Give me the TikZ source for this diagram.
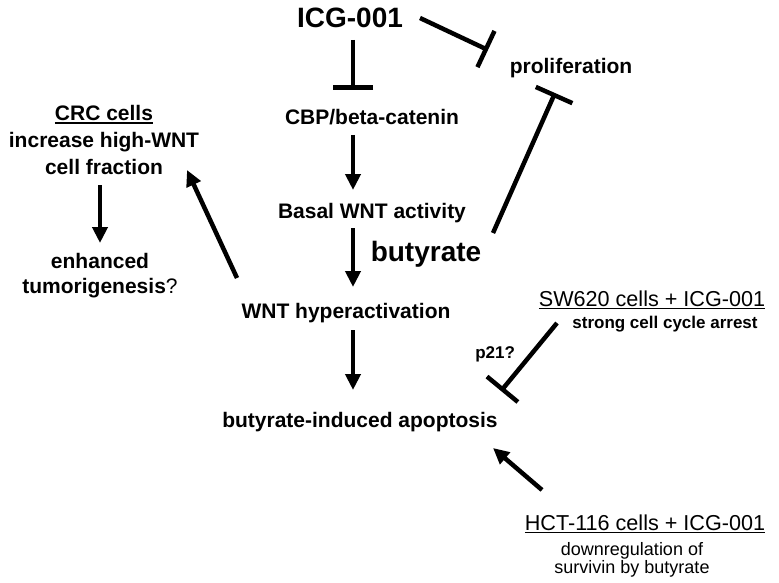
\documentclass[tikz,border=0pt]{standalone}
\usepackage{fontspec}
\setmainfont{Liberation Sans}
\usetikzlibrary{arrows.meta,calc}

% underline with a thicker rule
\newcommand{\ulbox}[1]{\setbox0\hbox{#1}\rlap{\rule[-3pt]{\wd0}{1.6pt}}\box0}

\tikzset{
  lbl/.style={font=\bfseries\fontsize{21}{27}\selectfont, align=center, inner sep=2pt},
  biglbl/.style={font=\bfseries\fontsize{28}{32}\selectfont, inner sep=2pt},
  cond/.style={font=\fontsize{21.6}{25}\selectfont, inner sep=2pt},
  note/.style={font=\bfseries\fontsize{17}{19}\selectfont, inner sep=2pt},
  remark/.style={font=\fontsize{18}{18.5}\selectfont, align=center, inner sep=2pt},
  act/.style={line width=4.5pt, -{Triangle[length=16pt,width=15pt]}},
  inhibit/.style={line width=4.5pt, -{Bar[width=40pt]}},
}

\begin{document}
\begin{tikzpicture}[x=1pt,y=-1pt]
  \useasboundingbox (0,0) rectangle (779,583);

  % central pathway
  \node[biglbl] (icg) at (350,18) {ICG-001};
  \node[lbl] (cbp) at (372,117) {CBP/beta-catenin};
  \node[lbl] (basal) at (372,213) {Basal WNT activity};
  \node[biglbl] (but) at (426,254) {butyrate};
  \node[lbl] (hyper) at (346,313) {WNT hyperactivation};
  \node[lbl] (apop) at (360,422) {butyrate-induced apoptosis};
  \node[lbl] (prol) at (571,68) {proliferation};

  % left branch
  \node[lbl] (crc) at (104,140) {\ulbox{CRC cells}\\increase high-WNT\\cell fraction};
  \node[lbl, font=\bfseries\fontsize{21}{25}\selectfont] (tum) at (100,276) {enhanced\\tumorigenesis{\mdseries ?}};

  % cell lines
  \node[cond] (sw) at (652,300) {\ulbox{SW620 cells + ICG-001}};
  \node[note] (arrest) at (665,324) {strong cell cycle arrest};
  \node[cond] (hct) at (645,524) {\ulbox{HCT-116 cells + ICG-001}};
  \node[remark] (down) at (632,560) {downregulation of\\survivin by butyrate};

  % connectors
  \draw[inhibit] ($(icg)+(3,22)$) -- ($(cbp)+(-19,-27)$);
  \draw[act] ($(cbp)+(-19,18)$) -- ($(basal)+(-19,-23)$);
  \draw[act] ($(basal)+(-19,15)$) -- ($(hyper)+(7,-26)$);
  \draw[act] ($(hyper)+(7,17)$) -- ($(apop)+(-7,-32)$);
  \draw[act] ($(hyper)+(-109,-35)$) -- ($(crc)+(83,30)$);
  \draw[act] ($(crc)+(-4,45)$) -- ($(tum)+(0,-33)$);
  \draw[inhibit] ($(icg)+(70,0)$) -- ($(prol)+(-83,-18)$);
  \draw[inhibit] ($(but)+(67,-21)$) -- ($(prol)+(-16,25)$);
  \draw[inhibit] ($(arrest)+(-108,-1)$) -- node[note, pos=.46, left=12pt] (p21) {p21?} ($(apop)+(141,-31)$);
  \draw[act] ($(hct)+(-103,-34)$) -- ($(apop)+(133,26)$);
\end{tikzpicture}
\end{document}
